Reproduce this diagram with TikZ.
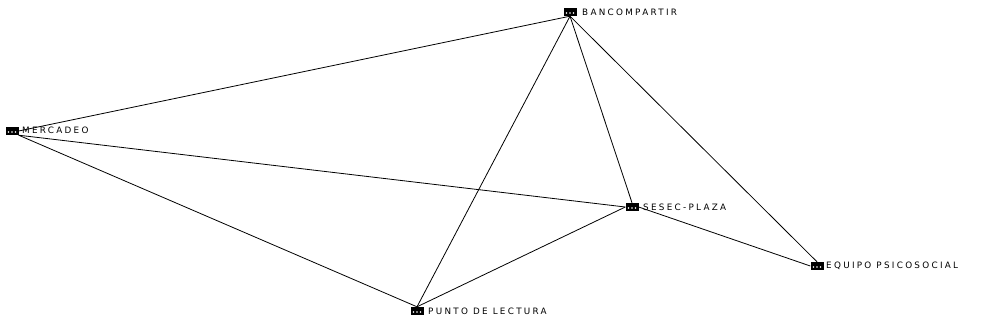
\documentclass[tikz,border=0pt]{standalone}
\usepackage{fontspec}
\setmainfont{DejaVu Sans}[LetterSpace=26]
\begin{document}
\begin{tikzpicture}[x=1pt,y=-1pt,
  icon/.style={fill=black,minimum width=13pt,minimum height=8pt,inner sep=0pt},
  lbl/.style={anchor=west,font=\fontsize{8.8}{9}\selectfont,inner sep=0pt},
  edge/.style={draw=black,line width=0.8pt}]
\useasboundingbox (0,0) rectangle (981,327);
\node[icon] (B) at (570,12) {};
\node[icon] (M) at (12,131) {};
\node[icon] (S) at (632,207) {};
\node[icon] (E) at (817,266) {};
\node[icon] (P) at (417,311) {};
\foreach \n in {B,M,S,E,P}{
  \fill[white] ([shift={(-3.5pt,-1pt)}]\n.center) circle (0.9pt)
               ([shift={(0pt,-1pt)}]\n.center) circle (0.9pt)
               ([shift={(3.5pt,-1pt)}]\n.center) circle (0.9pt);
}
\node[lbl] (Bl) at (582,12) {BANCOMPARTIR};
\node[lbl] (Ml) at (22,130) {MERCADEO};
\node[lbl] (Sl) at (643,207) {SESEC-PLAZA};
\node[lbl] (El) at (826,266) {EQUIPO PSICOSOCIAL};
\node[lbl] (Pl) at (428,311) {PUNTO DE LECTURA};
\draw[edge] (B.south) -- (M.east);
\draw[edge] (B.south) -- (P.north);
\draw[edge] (B.south) -- (S.north);
\draw[edge] (B.south) -- (E.north);
\draw[edge] (M.south east) -- (S.west);
\draw[edge] (M.south east) -- (P.north);
\draw[edge] (S.west) -- (P.north);
\draw[edge] (S.east) -- (E.west);
\end{tikzpicture}
\end{document}
